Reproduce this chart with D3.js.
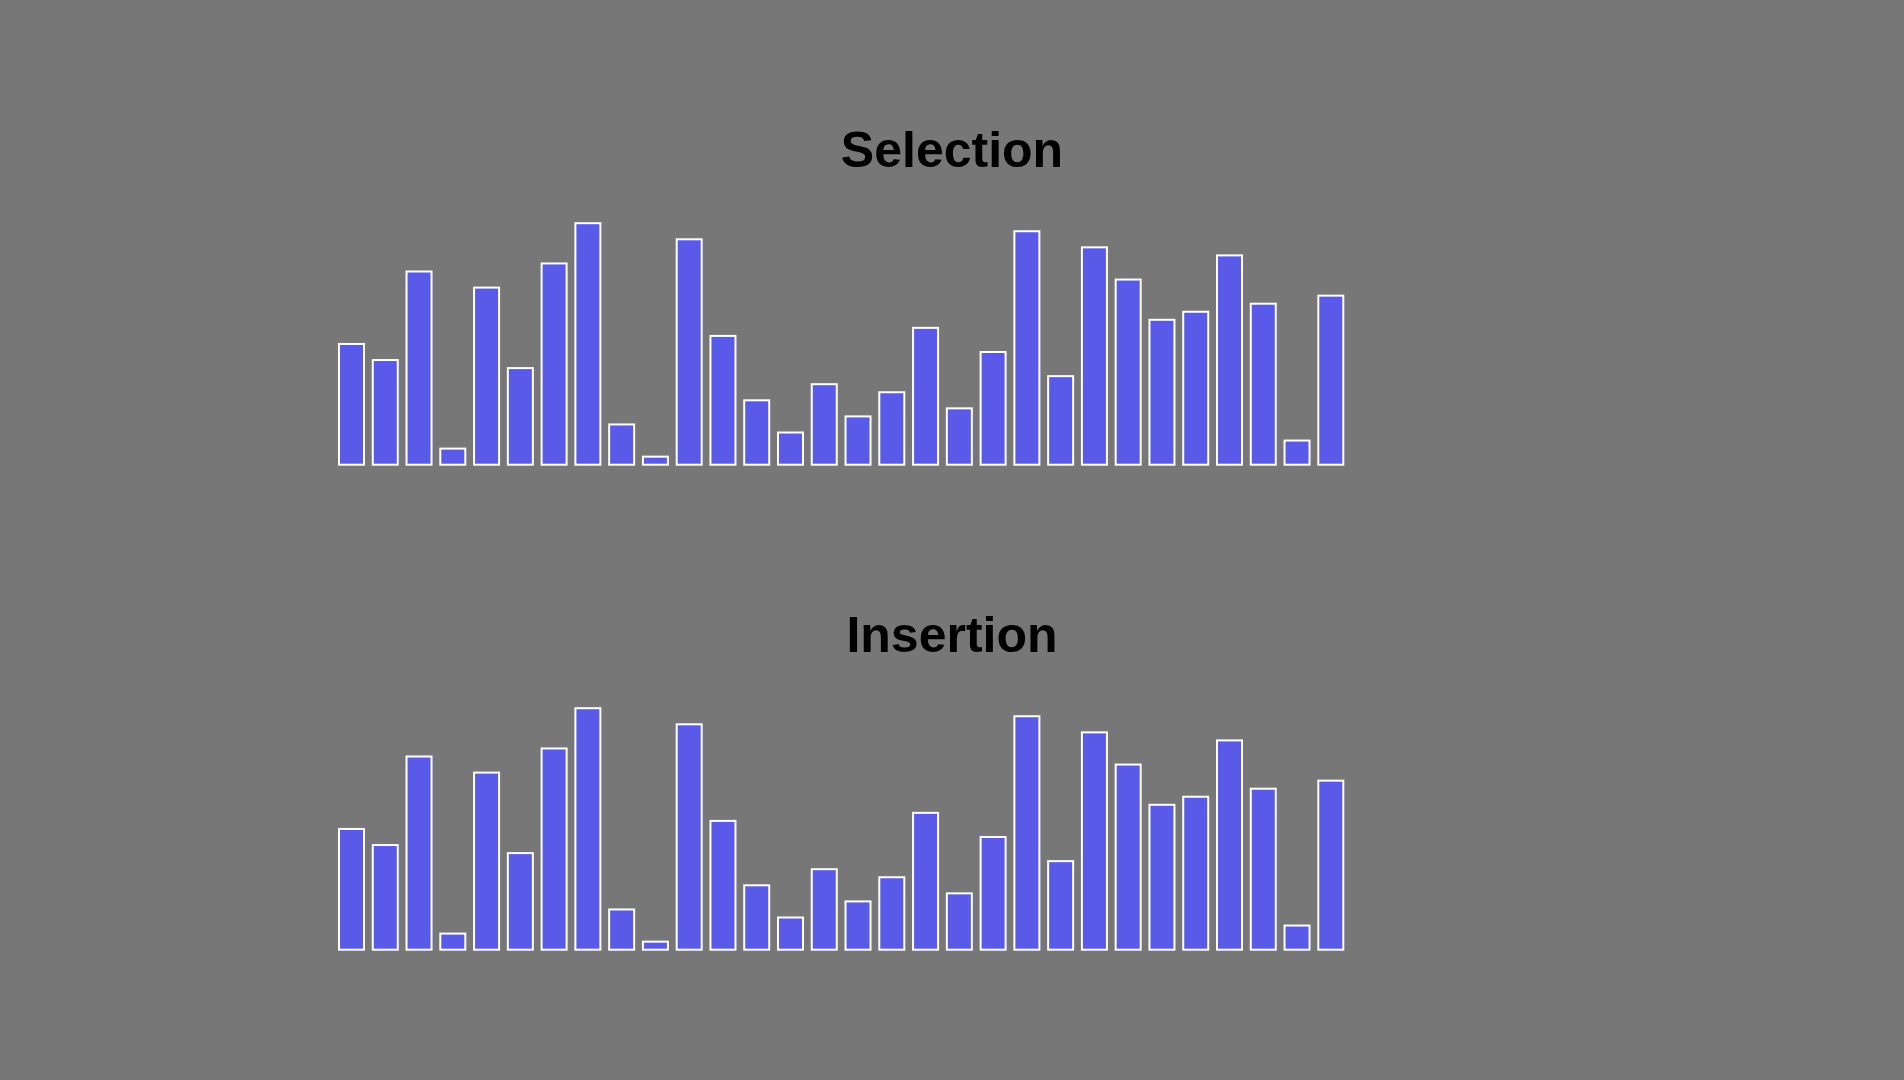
<!DOCTYPE html>
<html>
<head>
<meta charset="utf-8">
<script src="https://cdn.jsdelivr.net/npm/d3@7"></script>
<style>
  html, body { margin: 0; padding: 0; background: #777777; }
  svg { display: block; }
</style>
</head>
<body>
<script>
// ---- data ----
const titles = ["Selection", "Insertion"];
const indices = d3.range(30);
const selectionValues = [15,13,24,2,22,12,25,30,5,1,28,16,8,4,10,6,9,17,7,14,29,11,27,23,18,19,26,20,3,21];
const insertionValues = [15,13,24,2,22,12,25,30,5,1,28,16,8,4,10,6,9,17,7,14,29,11,27,23,18,19,26,20,3,21];
const seriesList = [selectionValues, insertionValues];

const W = 1904, H = 1080;
const svg = d3.select("body").append("svg").attr("width", W).attr("height", H);
svg.append("rect").attr("width", W).attr("height", H).attr("fill", "#777777");

const x = d3.scaleBand().domain(indices).range([339, 1343.3]).paddingInner(0.2597).paddingOuter(0);

const panelOffset = 485;
seriesList.forEach((vals, k) => {
  const dy = k * panelOffset;
  const base = 464.7 + dy;
  const y = d3.scaleLinear().domain([0, 30]).range([base, base - 241.5]);

  svg.append("text")
    .attr("x", 952)
    .attr("y", 166.7 + dy)
    .attr("text-anchor", "middle")
    .attr("font-family", "'Liberation Sans', Arial, Helvetica, sans-serif")
    .attr("font-weight", "bold")
    .attr("font-size", 50)
    .attr("fill", "#000")
    .text(titles[k]);

  svg.append("g").selectAll("rect")
    .data(vals)
    .join("rect")
    .attr("x", (d, i) => x(i))
    .attr("width", x.bandwidth())
    .attr("y", d => y(d))
    .attr("height", d => base - y(d))
    .attr("fill", "#5a5ae8")
    .attr("stroke", "#ffffff")
    .attr("stroke-width", 2);
});
</script>
</body>
</html>
